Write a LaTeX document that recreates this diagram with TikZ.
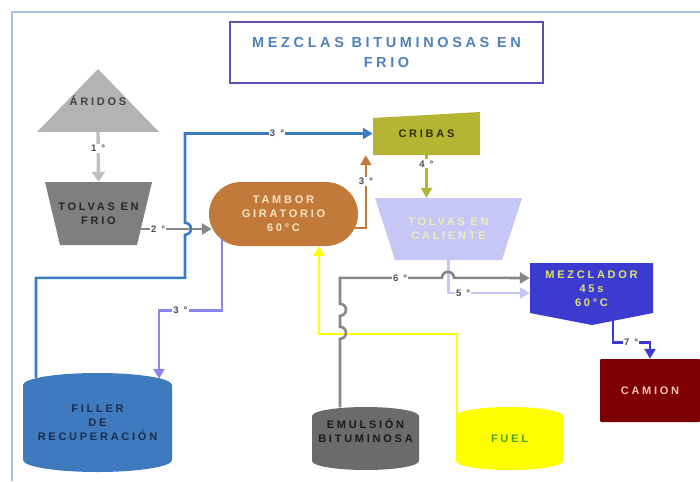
\documentclass[tikz,border=0pt]{standalone}
\usepackage{fontspec}
\setmainfont{Liberation Sans}
\newfontfamily\dgfont{Liberation Sans}[LetterSpace=25]
\usepackage{xcolor}
\usepackage{tikz}
\usetikzlibrary{shapes,arrows,arrows.meta,positioning,calc}

\definecolor{framec}{HTML}{9DC3E6}
\definecolor{titlec}{HTML}{5A4FB5}
\definecolor{titlet}{HTML}{4F81BD}
\definecolor{aridosc}{HTML}{B3B3B3}
\definecolor{aridost}{HTML}{404040}
\definecolor{frioc}{HTML}{7F7F7F}
\definecolor{friot}{HTML}{262626}
\definecolor{gris1}{HTML}{BFBFBF}
\definecolor{gris2}{HTML}{878787}
\definecolor{bluec}{HTML}{3D7CC4}
\definecolor{fillerc}{HTML}{3F79BE}
\definecolor{fillert}{HTML}{1B2D4F}
\definecolor{tamborc}{HTML}{C27A3A}
\definecolor{tambort}{HTML}{F7E4C4}
\definecolor{cribasc}{HTML}{B5B534}
\definecolor{cribast}{HTML}{2E2E0A}
\definecolor{calientec}{HTML}{C6C6F7}
\definecolor{calientet}{HTML}{EDEDB8}
\definecolor{lavc}{HTML}{8C84F0}
\definecolor{emulc}{HTML}{6B6B6B}
\definecolor{emult}{HTML}{1A1A1A}
\definecolor{fuelc}{HTML}{FFFF00}
\definecolor{fuelt}{HTML}{4CA626}
\definecolor{mezclc}{HTML}{3B3BCF}
\definecolor{mezclt}{HTML}{E3E36A}
\definecolor{camionc}{HTML}{7F0000}
\definecolor{camiont}{HTML}{F2C4BC}
\definecolor{numc}{HTML}{4D4D4D}

% tank: colour, left x, right x, top y, bottom y, ellipse radius
\newcommand{\tanque}[6]{%
  \fill[#1] (#2,#4+#6) arc[start angle=180, end angle=360, x radius={(#3-#2)/2}, y radius=#6]
    -- (#3,#5-#6) arc[start angle=0, end angle=180, x radius={(#3-#2)/2}, y radius=#6] -- cycle;}

\begin{document}
\begin{tikzpicture}[x=1pt, y=-1pt]
  % Define styles
  \tikzstyle{plant} = [inner sep=0pt, align=center, font={\dgfont\bfseries\fontsize{11}{14}\selectfont}]
  \tikzstyle{flow} = [line width=2.6pt, -{Triangle[width=11pt,length=10pt]}]
  \tikzstyle{tag} = [fill=white, inner sep=1.2pt, text=numc, font={\dgfont\bfseries\fontsize{9.5}{9.5}\selectfont}]

  \useasboundingbox (0,0) rectangle (700,481);

  % Frame and title
  \draw[framec, line width=1.5pt] (12,481) -- (12,12) -- (700,12);
  \node[draw=titlec, line width=2.2pt, minimum width=313, minimum height=61, align=center, text=titlet,
        font={\dgfont\bfseries\fontsize{14.5}{20}\selectfont}] (title) at (386.5,52.5) {MEZCLAS BITUMINOSAS EN\\FRIO};

  % Shapes
  \fill[aridosc] (98,69) -- (159,132) -- (37,132) -- cycle;
  \fill[frioc] (45,182) -- (152,182) -- (137,245) -- (60,245) -- cycle;
  \fill[cribasc] (373,118) -- (480,112) -- (480,155) -- (373,155) -- cycle;
  \fill[calientec] (375,198) -- (522,198) -- (502,260) -- (395,260) -- cycle;
  \fill[mezclc] (530,263) -- (653,263) -- (653,313) -- (592,325) -- (530,313) -- cycle;
  \tanque{fillerc}{23}{172}{373}{472}{12}
  \tanque{emulc}{312}{419}{407}{470}{9}
  \tanque{fuelc}{456}{563}{407}{470}{9}

  % Units
  \node[plant, text=aridost, minimum width=122, minimum height=63] (aridos) at (98,100.5) {ÁRIDOS};
  \node[plant, text=friot, minimum width=107, minimum height=63] (tolvasf) at (98.5,213.5) {TOLVAS EN\\FRIO};
  \node[plant, fill=tamborc, rounded corners=32pt, text=tambort, minimum width=149, minimum height=64] (tambor) at (283.5,214) {TAMBOR\\GIRATORIO\\60°C};
  \node[plant, text=cribast, minimum width=107, minimum height=43] (cribas) at (426.5,133.5) {CRIBAS};
  \node[plant, text=calientet, minimum width=147, minimum height=62] (tolvasc) at (448.5,229) {TOLVAS EN\\CALIENTE};
  \node[plant, text=mezclt, minimum width=123, minimum height=52] (mezcl) at (591.5,289) {MEZCLADOR\\45s\\60°C};
  \node[plant, fill=camionc, rounded corners=1pt, text=camiont, minimum width=100, minimum height=63] (camion) at (650,390.5) {CAMION};
  \node[plant, text=fillert, minimum width=149, minimum height=99] (filler) at (97.5,422.5) {FILLER\\DE\\RECUPERACIÓN};
  \node[plant, text=emult, minimum width=107, minimum height=49] (emul) at (365.5,431) {EMULSIÓN\\BITUMINOSA};
  \node[plant, text=fuelt, minimum width=107, minimum height=63] (fuel) at (509.5,438.5) {FUEL};

  % Flows
  \draw[flow, gris1, line width=3.4pt, -{Triangle[width=13pt,length=10pt]}] (aridos.south) -- node[tag, pos=0.32] {1 °} (tolvasf.north);
  \draw[flow, gris2] ([xshift=-11pt,yshift=-15.5pt]tolvasf.east) -- node[tag, pos=0.24] {2 °} ([xshift=3pt,yshift=-15pt]tambor.west);
  \draw[flow, bluec] ([xshift=-61.5pt,yshift=-5pt]filler.north) -- ++(0,-100) -- ++(149,0) -- ++(0,-43)
    arc[start angle=90, end angle=-90, radius=6] |- node[tag, pos=0.745] {3 °} (cribas.west);
  \draw[flow, tamborc] ([xshift=-3pt,yshift=-14pt]tambor.east) -| node[tag, pos=0.82] {3 °} ([xshift=-7pt]cribas.south west);
  \draw[flow, cribasc] (cribas.south) -- node[tag, pos=0.2] {4 °} (cribas.south |- tolvasc.north);
  \draw[flow, calientec] (tolvasc.south) |- node[tag, pos=0.59] {5 °} ([yshift=-4pt]mezcl.west);
  \draw[flow, fuelc] ([xshift=1pt,yshift=-10pt]fuel.north west) -- ++(0,-83) -| ([xshift=35.5pt]tambor.south);
  \draw[flow, gris2] ([xshift=-25.5pt,yshift=-1pt]emul.north) -- ++(0,-68.5)
    arc[start angle=90, end angle=-90, radius=6] -- ++(0,-11)
    arc[start angle=90, end angle=-90, radius=6] -- ++(0,-26)
    -- node[tag, pos=0.59] {6 °} ++(102,0)
    arc[start angle=180, end angle=360, radius=6] -- ([yshift=11pt]mezcl.west);
  \draw[flow, lavc] ([xshift=13pt,yshift=7pt]tambor.south west) -- ++(0,71) -| node[tag, pos=0.33] {3 °} ([xshift=61.5pt,yshift=-6pt]filler.north);
  \draw[flow, mezclc] ([xshift=21.5pt,yshift=-4pt]mezcl.south) -- ++(0,23) -| node[tag, pos=0.245] {7 °} (camion.north);

\end{tikzpicture}
\end{document}
